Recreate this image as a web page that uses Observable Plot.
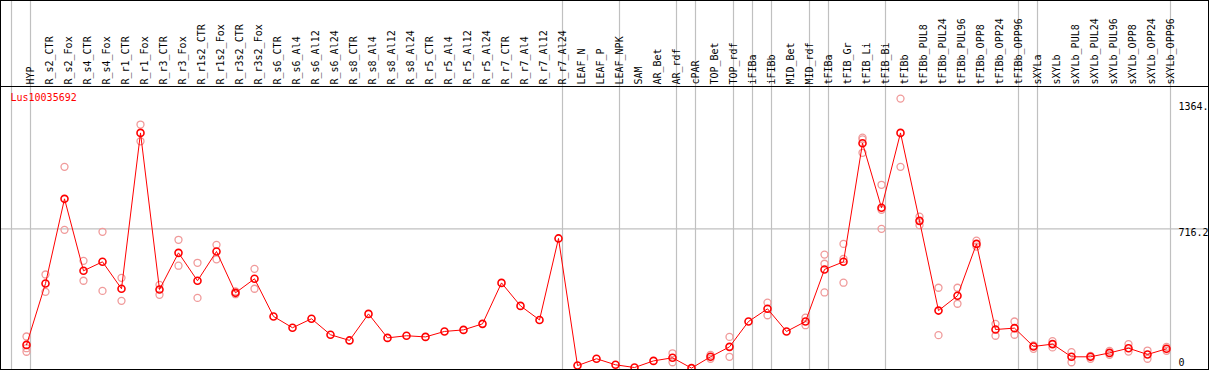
<!DOCTYPE html>
<html><head><meta charset="utf-8">
<script src="https://cdn.jsdelivr.net/npm/d3@7"></script>
<script src="https://cdn.jsdelivr.net/npm/@observablehq/plot@0.6"></script>
<style>
html,body{margin:0;padding:0;background:#fff;overflow:hidden}
#chart svg{display:block;outline:1px solid #000;outline-offset:-1px}
</style>
</head><body><div id="chart"></div><script>
const geneId = "Lus10035692";
const categories = ["HYP","R_s2_CTR","R_s2_Fox","R_s4_CTR","R_s4_Fox","R_r1_CTR","R_r1_Fox","R_r3_CTR","R_r3_Fox","R_r1s2_CTR","R_r1s2_Fox","R_r3s2_CTR","R_r3s2_Fox","R_s6_CTR","R_s6_Al4","R_s6_Al12","R_s6_Al24","R_s8_CTR","R_s8_Al4","R_s8_Al12","R_s8_Al24","R_r5_CTR","R_r5_Al4","R_r5_Al12","R_r5_Al24","R_r7_CTR","R_r7_Al4","R_r7_Al12","R_r7_Al24","LEAF_N","LEAF_P","LEAF_NPK","SAM","AR_Bet","AR_rdf","cPAR","TOP_Bet","TOP_rdf","iFIBa","iFIBb","MID_Bet","MID_rdf","tFIBa","tFIB_Gr","tFIB_Li","tFIB_Bi","tFIBb","tFIBb_PUL8","tFIBb_PUL24","tFIBb_PUL96","tFIBb_OPP8","tFIBb_OPP24","tFIBb_OPP96","sXYLa","sXYLb","sXYLb_PUL8","sXYLb_PUL24","sXYLb_PUL96","sXYLb_OPP8","sXYLb_OPP24","sXYLb_OPP96"];
const means = [121,436,870,501,547,409,1208,405,593,450,600,388,460,267,209,255,173,144,280,157,168,162,190,198,229,439,321,249,667,15,50,19,5,39,55,2,60,111,241,306,190,241,508,547,1155,824,1208,757,297,373,639,200,207,113,125,60,60,80,104,72,101];
const replicates = [
  [164,104,86],[482,393],[1034,711],[552,450],[701,398],[465,347],[1251,1165],[429,378],[660,527],[542,362],[634,560],[395,381],[511,409],
  [],[],[],[],[],[],[],[],[],[],[],[],[],[],[],[],
  [],[],[],[],[],[78,32],[],[70,50],[162,60],[],[338,273],[],[261,222],
  [584,537,390],[639,562,440],[1184,1175,1106],[942,814,716],
  [1384,1034],[779,735],[414,171],[414,332],[656,625],[229,168],[241,173],
  [118,101],[140,108],[84,32],[65,50],[90,70],[125,87],[92,50],[111,91]
];
const groupStarts = ["HYP","R_s2_CTR","LEAF_N","SAM","cPAR","TOP_Bet","iFIBa","iFIBb","MID_Bet","tFIBa","tFIB_Gr","tFIBb","sXYLa","sXYLb"];
const yTickValues = [1364, 716.2, 0];
const yTickLabels = ["1364.", "716.2", "0"];
const gridValues = [716.2];

const meanData = categories.map((c, i) => ({i, c, v: means[i]}));
const repData = categories.flatMap((c, i) => replicates[i].map(v => ({i, c, v})));
const cellOffset = 15 / 19;
const boundaries = groupStarts.map(g => categories.indexOf(g)).concat([categories.length]).map(i => i - cellOffset);
const ticks = yTickValues.map((v, k) => ({v, label: yTickLabels[k]}));

const chart = Plot.plot({
  width: 1209, height: 370,
  marginLeft: 0, marginRight: 0, marginTop: 86, marginBottom: 1,
  x: {type: "linear", domain: [-26 / 19, (1209 - 26) / 19], axis: null},
  y: {domain: [0, 1446], insetBottom: 1, axis: null},
  style: {fontFamily: "'DejaVu Sans Mono', monospace", fontSize: "10px", background: "white", color: "black"},
  marks: [
    Plot.ruleY(gridValues, {stroke: "#c0c0c0", strokeWidth: 1.2}),
    Plot.ruleX(boundaries, {stroke: "#c0c0c0", strokeWidth: 1.2, insetTop: -86, insetBottom: -1}),
    Plot.frame({stroke: "black"}),
    Plot.text(categories, {x: (d, i) => i, text: d => d, frameAnchor: "top", dy: -2, rotate: -90, textAnchor: "start", fill: "black"}),
    Plot.text([geneId], {text: d => d, frameAnchor: "top-left", dx: 10, dy: 7, lineAnchor: "top", textAnchor: "start", fill: "red"}),
    Plot.text(ticks.filter(d => d.v !== 0), {y: "v", text: "label", frameAnchor: "right", dx: -31, dy: 4, textAnchor: "start", fill: "black"}),
    Plot.text(ticks.filter(d => d.v === 0), {y: "v", text: "label", frameAnchor: "right", dx: -31, dy: -6, textAnchor: "start", fill: "black"}),
    Plot.dot(repData, {x: "i", y: "v", r: 3.5, stroke: "#f09a9a", strokeWidth: 1.3}),
    Plot.line(meanData, {x: "i", y: "v", stroke: "red", strokeWidth: 1}),
    Plot.dot(meanData, {x: "i", y: "v", r: 3.5, stroke: "red", strokeWidth: 1.6})
  ]
});
document.getElementById("chart").appendChild(chart);
</script></body></html>
